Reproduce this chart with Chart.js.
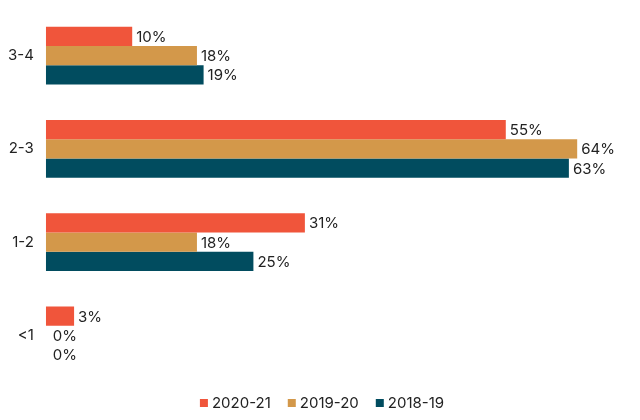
<!DOCTYPE html>
<html>
<head>
<meta charset="utf-8">
<script src="https://cdn.jsdelivr.net/npm/chart.js@4"></script>
<style>
  html, body { margin: 0; padding: 0; background: #fff; }
  #wrap { width: 640px; height: 420px; }
</style>
</head>
<body>
<div id="wrap"><canvas id="chart"></canvas></div>
<script>
const categories = ["3-4", "2-3", "1-2", "<1"];
const seriesNames = ["2020-21", "2019-20", "2018-19"];
const values2021 = [10.4, 55.4, 31.2, 3.4];
const values1920 = [18.2, 64, 18.2, 0];
const values1819 = [19, 63, 25, 0];
const colors = ["#f0553b", "#d3984a", "#014c5f"];

const font = "15px Inter, sans-serif";

// value labels at the end of each bar
const barLabels = {
  id: "barLabels",
  afterDatasetsDraw(chart) {
    const { ctx } = chart;
    ctx.save();
    ctx.font = font;
    ctx.fillStyle = "#222";
    ctx.textAlign = "left";
    ctx.textBaseline = "middle";
    chart.data.datasets.forEach((ds, i) => {
      chart.getDatasetMeta(i).data.forEach((bar, j) => {
        const x = Math.max(bar.x, bar.base) + (ds.data[j] === 0 ? 7 : 4);
        ctx.fillText(Math.round(ds.data[j]) + "%", x, bar.y + 1);
      });
    });
    ctx.restore();
  },
};

// small legend along the bottom, square close to its text
const bottomLegend = {
  id: "bottomLegend",
  afterDraw(chart) {
    const { ctx } = chart;
    const box = 8, gap = 4, spacing = 17, y = 403;
    ctx.save();
    ctx.font = font;
    const widths = chart.data.datasets.map((ds) => ctx.measureText(ds.label).width);
    const total = widths.reduce((a, w) => a + box + gap + w, 0) + spacing * (widths.length - 1);
    let x = 322 - total / 2;
    ctx.textAlign = "left";
    ctx.textBaseline = "middle";
    chart.data.datasets.forEach((ds, i) => {
      ctx.fillStyle = ds.backgroundColor;
      ctx.fillRect(x, y - box / 2, box, box);
      ctx.fillStyle = "#222";
      ctx.fillText(ds.label, x + box + gap, y);
      x += box + gap + widths[i] + spacing;
    });
    ctx.restore();
  },
};

new Chart(document.getElementById("chart").getContext("2d"), {
  type: "bar",
  data: {
    labels: categories,
    datasets: [values2021, values1920, values1819].map((data, i) => ({
      label: seriesNames[i],
      data,
      backgroundColor: colors[i],
      borderWidth: 0,
      categoryPercentage: 0.62,
      barPercentage: 1,
    })),
  },
  options: {
    indexAxis: "y",
    responsive: true,
    maintainAspectRatio: false,
    animation: false,
    layout: { padding: { left: -4, top: 9, right: 13, bottom: 38 } },
    plugins: {
      legend: { display: false },
      tooltip: { enabled: false },
    },
    scales: {
      x: { display: false, min: 0, max: 70 },
      y: {
        grid: { display: false, drawTicks: false },
        border: { display: false },
        ticks: { color: "#222", padding: 12, font: { family: "Inter", size: 15 } },
        afterFit(scale) {
          scale.paddingTop = 0;
          scale.paddingBottom = 0;
        },
      },
    },
  },
  plugins: [barLabels, bottomLegend],
});
</script>
</body>
</html>
